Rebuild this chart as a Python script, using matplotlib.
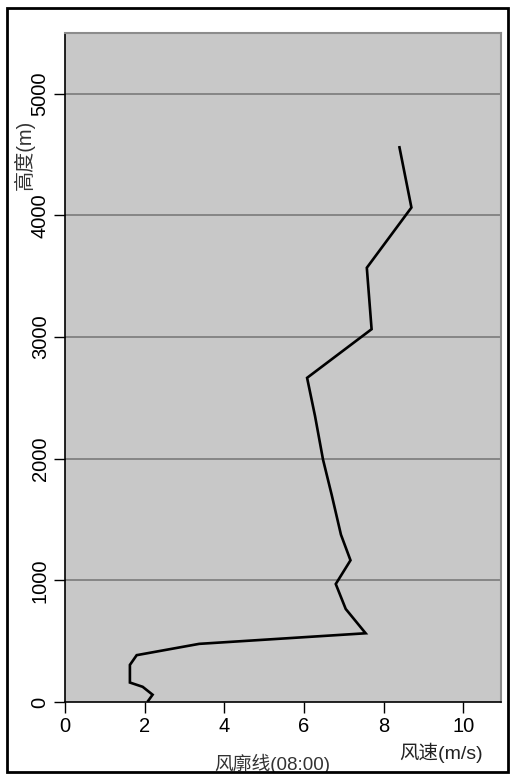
import matplotlib
matplotlib.use("Agg")
import matplotlib.pyplot as plt
from matplotlib.patches import Rectangle

num_font = "Liberation Sans"
cjk = "Noto Sans CJK SC"

speed = [2.09, 2.2, 1.95, 1.63, 1.63, 1.8, 3.37, 7.55, 7.05, 6.8, 7.17, 6.93, 6.7, 6.48, 6.28, 6.08, 7.7, 7.58, 8.7, 8.4]
height = [10, 60, 125, 160, 305, 385, 478, 565, 765, 970, 1165, 1376, 1700, 1993, 2350, 2665, 3065, 3570, 4065, 4560]
xticks = [0, 2, 4, 6, 8, 10]
yticks = [0, 1000, 2000, 3000, 4000, 5000]

fig = plt.figure(figsize=(5.11, 7.75), dpi=100)
ax = fig.add_axes([65/511, 73/775, 436/511, 669/775])
ax.set_facecolor("#c8c8c8")
ax.plot(speed, height, color="black", lw=1.9, solid_joinstyle="miter", zorder=3)
ax.set_xlim(0, 10.95)
ax.set_ylim(0, 5500)
ax.set_xticks(xticks)
ax.set_yticks(yticks)
for y in yticks[1:]:
    ax.axhline(y, color="#7a7a7a", lw=1.2, zorder=1)
ax.tick_params(axis="both", direction="out", length=8, width=1, color="black", pad=3)
ax.set_xticklabels([str(v) for v in xticks], fontsize=14.5, family=num_font)
ax.set_yticklabels([str(v) for v in yticks], fontsize=14.5, family=num_font, rotation=90, va="center")
for s in ["left", "bottom"]:
    ax.spines[s].set_color("black")
    ax.spines[s].set_linewidth(1.2)
for s in ["right", "top"]:
    ax.spines[s].set_color("#8c8c8c")
    ax.spines[s].set_linewidth(1.5)

fig.text(24/511, 1 - 155/775, "高度(m)", rotation=90, ha="center", va="center",
         fontsize=14.5, color="#333333", family=[num_font, cjk])
fig.text(441/511, 1 - 753/775, "风速(m/s)", ha="center", va="center",
         fontsize=14, color="#222222", family=[num_font, cjk])
fig.text(272/511, 1 - 764/775, "风廓线(08:00)", ha="center", va="center",
         fontsize=13.5, color="#333333", family=[num_font, cjk])

fig.patches.append(Rectangle((0, 0), 1, 3/775, transform=fig.transFigure,
                             facecolor="white", edgecolor="none", zorder=5))
fig.patches.append(Rectangle((7/511, 3/775), 501/511, 764/775, transform=fig.transFigure,
                             facecolor="none", edgecolor="black", lw=2, zorder=6))

fig.savefig("out.png", dpi=100)
